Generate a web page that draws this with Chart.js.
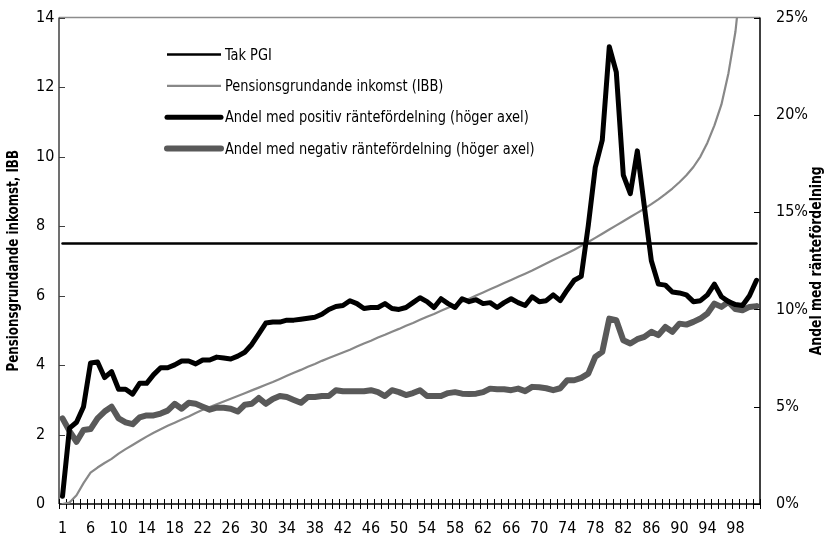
<!DOCTYPE html>
<html lang="sv">
<head>
<meta charset="utf-8">
<title>Räntefördelning och pensionsgrundande inkomst</title>
<script src="https://cdn.jsdelivr.net/npm/chart.js@4.4.0/dist/chart.umd.min.js"></script>
<style>
  html, body { margin: 0; padding: 0; background: #fff; }
  #wrap { position: relative; width: 827px; height: 539px; }
</style>
</head>
<body>
<div id="wrap"><canvas id="chart"></canvas></div>
<script>
// kategorier: percentiler (första etiketten är "1", sedan 3..101)
const percentiles = ['1', ...Array.from({ length: 99 }, (_, k) => String(k + 3))]

const leftTicks = [0, 2, 4, 6, 8, 10, 12, 14]
const rightTicks = [0, 5, 10, 15, 20, 25]

const takPGI = 7.5

// Pensionsgrundande inkomst (IBB), vänster axel
const ibb = [
  0.0, 0.04, 0.25, 0.6, 0.9, 1.05, 1.18, 1.3, 1.45, 1.58,
  1.7, 1.82, 1.94, 2.05, 2.15, 2.25, 2.34, 2.43, 2.52, 2.62,
  2.71, 2.79, 2.87, 2.95, 3.03, 3.11, 3.19, 3.27, 3.35, 3.43,
  3.51, 3.6, 3.69, 3.78, 3.86, 3.95, 4.03, 4.12, 4.2, 4.28,
  4.36, 4.44, 4.53, 4.62, 4.7, 4.79, 4.87, 4.96, 5.04, 5.13,
  5.21, 5.3, 5.39, 5.47, 5.56, 5.65, 5.73, 5.82, 5.91, 6.0,
  6.09, 6.18, 6.27, 6.36, 6.45, 6.54, 6.63, 6.72, 6.82, 6.92,
  7.02, 7.12, 7.22, 7.32, 7.43, 7.54, 7.66, 7.78, 7.9, 8.02,
  8.14, 8.26, 8.38, 8.5, 8.63, 8.77, 8.92, 9.08, 9.26, 9.46,
  9.7, 10.0, 10.4, 10.9, 11.5, 12.4, 13.6, 15.5, 18.5, 23
]

// Andel med positiv räntefördelning (%), höger axel
const positive = [
  0.4, 3.9, 4.2, 5.0, 7.25, 7.3, 6.5, 6.8, 5.9, 5.9,
  5.65, 6.2, 6.2, 6.65, 7.0, 7.0, 7.15, 7.35, 7.35, 7.2,
  7.4, 7.4, 7.55, 7.5, 7.45, 7.6, 7.8, 8.2, 8.75, 9.3,
  9.35, 9.35, 9.45, 9.45, 9.5, 9.55, 9.6, 9.75, 10.0, 10.15,
  10.2, 10.45, 10.3, 10.05, 10.1, 10.1, 10.3, 10.05, 10.0, 10.1,
  10.35, 10.6, 10.4, 10.1, 10.55, 10.3, 10.1, 10.55, 10.4, 10.5,
  10.3, 10.35, 10.1, 10.35, 10.55, 10.35, 10.2, 10.65, 10.4, 10.45,
  10.75, 10.45, 11.0, 11.5, 11.7, 14.3, 17.3, 18.7, 23.5, 22.2,
  16.9, 15.95, 18.15, 15.3, 12.5, 11.3, 11.25, 10.9, 10.85, 10.75,
  10.4, 10.45, 10.75, 11.3, 10.65, 10.4, 10.25, 10.2, 10.7, 11.5
]

// Andel med negativ räntefördelning (%), höger axel
const negative = [
  4.4, 3.75, 3.2, 3.8, 3.85, 4.4, 4.75, 5.0, 4.4, 4.2,
  4.1, 4.45, 4.55, 4.55, 4.65, 4.8, 5.15, 4.9, 5.2, 5.15,
  5.0, 4.85, 4.95, 4.95, 4.9, 4.75, 5.1, 5.15, 5.45, 5.15,
  5.4, 5.55, 5.5, 5.35, 5.2, 5.5, 5.5, 5.55, 5.55, 5.85,
  5.8, 5.8, 5.8, 5.8, 5.85, 5.75, 5.55, 5.85, 5.75, 5.6,
  5.7, 5.85, 5.55, 5.55, 5.55, 5.7, 5.75, 5.67, 5.65, 5.67,
  5.75, 5.93, 5.9, 5.9, 5.85, 5.93, 5.8, 6.02, 6.0, 5.95,
  5.85, 5.95, 6.36, 6.36, 6.48, 6.7, 7.56, 7.82, 9.53, 9.45,
  8.42, 8.25, 8.47, 8.59, 8.85, 8.68, 9.1, 8.85, 9.27, 9.22,
  9.36, 9.53, 9.79, 10.3, 10.13, 10.39, 10.02, 9.96, 10.13, 10.17
]

const FONT = "'Liberation Sans Narrow', 'DejaVu Sans Condensed', 'Arial Narrow', sans-serif"
const tickFont = { family: FONT, size: 16 }

function line(ctx, x1, y1, x2, y2) {
  ctx.beginPath()
  ctx.moveTo(x1, y1)
  ctx.lineTo(x2, y2)
  ctx.stroke()
}

// smal text: skalar ner bredden så att den liknar förlagans condensed-typsnitt
function narrowText(ctx, text, x, y, rot, squeeze) {
  ctx.save()
  ctx.translate(x, y)
  if (rot) ctx.rotate(rot)
  ctx.scale(squeeze, 1)
  ctx.fillText(text, 0, 0)
  ctx.restore()
}

// ram och tickmarkeringar som i Excel-förlagan
const frame = {
  id: 'frame',
  beforeDatasetsDraw(chart) {
    const { ctx, chartArea: a, scales } = chart
    ctx.save()
    ctx.lineWidth = 1.5
    ctx.strokeStyle = '#8c8c8c'
    line(ctx, a.left, a.top, a.right, a.top)
    ctx.strokeStyle = '#404040'
    line(ctx, a.left, a.top, a.left, a.bottom)
    ctx.strokeStyle = '#000'
    line(ctx, a.right, a.top, a.right, a.bottom)
    line(ctx, a.left, a.bottom, a.right, a.bottom)

    ctx.lineWidth = 1
    ctx.strokeStyle = '#404040'
    scales.y.ticks.forEach(t => {
      const y = Math.round(scales.y.getPixelForValue(t.value)) + 0.5
      line(ctx, a.left, y, a.left + 6, y)
    })
    ctx.strokeStyle = '#000'
    scales.y1.ticks.forEach(t => {
      const y = Math.round(scales.y1.getPixelForValue(t.value)) + 0.5
      line(ctx, a.right - 6, y, a.right, y)
    })
    const step = (a.right - a.left) / percentiles.length
    for (let i = 0; i <= percentiles.length; i++) {
      const x = Math.round(a.left + i * step) + 0.5
      line(ctx, x, a.bottom - 5, x, a.bottom + 5)
    }
    ctx.restore()
  }
}

// legend inne i diagrammet + axeltitlar
const overlay = {
  id: 'overlay',
  afterDraw(chart) {
    const { ctx, chartArea: a } = chart
    ctx.save()
    ctx.font = `16px ${FONT}`
    ctx.textBaseline = 'middle'
    ctx.textAlign = 'left'
    ctx.fillStyle = '#000'
    chart.data.datasets.forEach((ds, i) => {
      const y = a.top + 37 + i * 31.3
      ctx.strokeStyle = ds.borderColor
      ctx.lineWidth = ds.borderWidth
      ctx.lineCap = ds.borderWidth > 3 ? 'round' : 'butt'
      line(ctx, a.left + 108, y, a.left + 162, y)
      narrowText(ctx, ds.label, a.left + 166, y + 1, 0, 0.9)
    })

    const mid = (a.top + a.bottom) / 2
    ctx.font = `bold 15px ${FONT}`
    ctx.textAlign = 'center'
    narrowText(ctx, 'Pensionsgrundande inkomst, IBB', 14, mid, -Math.PI / 2, 0.88)
    narrowText(ctx, 'Andel med räntefördelning', 817, mid, -Math.PI / 2, 0.92)
    ctx.restore()
  }
}

new Chart(document.querySelector('#chart'), {
  type: 'line',
  data: {
    labels: percentiles,
    datasets: [
      { label: 'Tak PGI', data: percentiles.map(() => takPGI), yAxisID: 'y', borderColor: '#000', borderWidth: 2.5, order: 2 },
      { label: 'Pensionsgrundande inkomst (IBB)', data: ibb, yAxisID: 'y', borderColor: '#888888', borderWidth: 2.2, order: 3 },
      { label: 'Andel med positiv räntefördelning (höger axel)', data: positive, yAxisID: 'y1', borderColor: '#000', borderWidth: 5, order: 0 },
      { label: 'Andel med negativ räntefördelning (höger axel)', data: negative, yAxisID: 'y1', borderColor: '#595959', borderWidth: 6, order: 1 }
    ]
  },
  options: {
    responsive: true,
    maintainAspectRatio: false,
    animation: false,
    layout: { padding: { left: 36, top: 16, right: 0, bottom: 0 } },
    elements: {
      point: { radius: 0 },
      line: { tension: 0, borderJoinStyle: 'round', borderCapStyle: 'round' }
    },
    plugins: {
      legend: { display: false },
      tooltip: { enabled: false }
    },
    scales: {
      x: {
        offset: true,
        grid: { display: false },
        border: { display: false },
        ticks: {
          autoSkip: false,
          maxRotation: 0,
          minRotation: 0,
          padding: 7,
          color: '#000',
          font: tickFont,
          callback: (v, i) => (i % 4 === 0 ? percentiles[i] : '')
        },
        afterFit: s => { s.height = 35 }
      },
      y: {
        position: 'left',
        min: 0,
        max: 14,
        grid: { display: false },
        border: { display: false },
        ticks: { crossAlign: 'far', color: '#000', font: tickFont },
        afterBuildTicks: s => { s.ticks = leftTicks.map(value => ({ value })) },
        afterFit: s => { s.width = 23 }
      },
      y1: {
        position: 'right',
        min: 0,
        max: 25,
        grid: { display: false },
        border: { display: false },
        ticks: { padding: 8, color: '#000', font: tickFont, callback: v => v + '%' },
        afterBuildTicks: s => { s.ticks = rightTicks.map(value => ({ value })) },
        afterFit: s => { s.width = 67 }
      }
    }
  },
  plugins: [frame, overlay]
})
</script>
</body>
</html>
